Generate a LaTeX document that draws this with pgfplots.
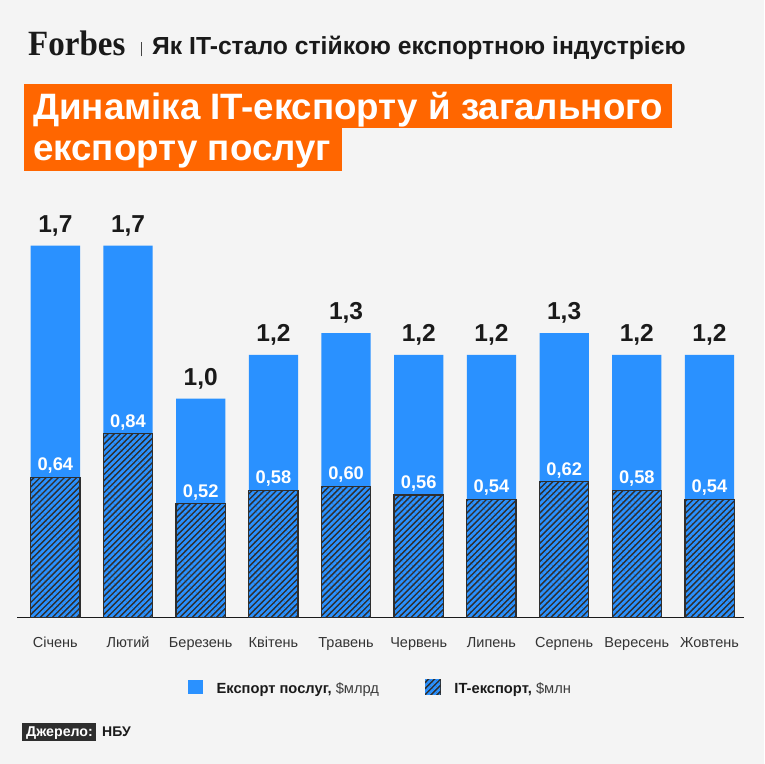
\documentclass[border=0pt]{standalone}
\usepackage{pgfplots}
\pgfplotsset{compat=1.18}
\usepackage{pgfplotstable}
\usepackage{fontspec}
\setmainfont{Liberation Sans}
\newfontfamily\forbesfont[FakeStretch=0.93]{Liberation Serif}
\usetikzlibrary{patterns.meta}
\definecolor{bgc}{HTML}{F4F4F4}
\definecolor{barblue}{HTML}{2A91FF}
\definecolor{orangec}{HTML}{FF6600}
\definecolor{hatchdark}{HTML}{2E2E2E}
\definecolor{txtc}{HTML}{1A1A1A}
\definecolor{monthc}{HTML}{333333}
\definecolor{unitc}{HTML}{3C3C3C}
\definecolor{sepc}{HTML}{444444}
\pgfplotstableread{
x tot totlab it itlab
0 1.7 1,7 0.64 0,64
1 1.7 1,7 0.84 0,84
2 1.0 1,0 0.52 0,52
3 1.2 1,2 0.58 0,58
4 1.3 1,3 0.60 0,60
5 1.2 1,2 0.56 0,56
6 1.2 1,2 0.54 0,54
7 1.3 1,3 0.62 0,62
8 1.2 1,2 0.58 0,58
9 1.2 1,2 0.54 0,54
}\data
\begin{document}
\begin{tikzpicture}
\fill[bgc] (0pt,0pt) rectangle (764pt,764pt);
% header
\node[anchor=base west,inner sep=0pt,text=txtc] at (28pt,708pt) {\forbesfont\bfseries\fontsize{35.5}{40}\selectfont Forbes};
\draw[sepc,line width=1.3pt] (141.7pt,707.5pt) -- (141.7pt,722pt);
\node[anchor=base west,inner sep=0pt,text=txtc] at (152pt,709pt) {\bfseries\fontsize{24.7}{28}\selectfont Як IT-стало стійкою експортною індустрією};
% title boxes
\fill[orangec] (24.3pt,680pt) rectangle (672pt,635.7pt);
\fill[orangec] (24.3pt,635.7pt) rectangle (341.7pt,593pt);
\node[anchor=base west,inner sep=0pt,text=white] at (33pt,644.7pt) {\bfseries\fontsize{36.7}{40}\selectfont Динаміка IT-експорту й загального};
\node[anchor=base west,inner sep=0pt,text=white] at (33pt,603pt) {\bfseries\fontsize{36.7}{40}\selectfont експорту послуг};
% source
\fill[hatchdark] (22.3pt,40.7pt) rectangle (96pt,23pt);
\node[anchor=base west,inner sep=0pt,text=white] at (26pt,27.5pt) {\bfseries\fontsize{14.2}{17}\selectfont Джерело:};
\node[anchor=base west,inner sep=0pt,text=txtc] at (102pt,27.5pt) {\bfseries\fontsize{14}{17}\selectfont НБУ};
\begin{axis}[
  at={(55.35pt,146.5pt)}, anchor=origin,
  scale only axis, width=726.7pt, height=437.6pt,
  xmin=-0.523, xmax=9.475, ymin=0, ymax=2,
  axis x line*=bottom, axis y line=none,
  x axis line style={draw=txtc, line width=1.3pt, -},
  ytick=\empty,
  xtick={0,...,9},
  xticklabels={Січень,Лютий,Березень,Квітень,Травень,Червень,Липень,Серпень,Вересень,Жовтень},
  major tick length=0pt,
  xticklabel style={font=\fontsize{14.5}{17}\selectfont, text=monthc, anchor=base, yshift=-30.5pt},
  clip=false,
  ybar, bar width=49.3pt, bar shift=0pt,
  legend columns=2,
  legend style={at={(0.2345,-0.1588)}, anchor=west, draw=none, fill=none, inner sep=0pt,
    nodes={inner sep=0pt, text=txtc, font=\fontsize{14.7}{17}\selectfont},
    /tikz/every odd column/.append style={column sep=13.6pt},
    /tikz/every even column/.append style={column sep=45.5pt}},
  legend image code/.code={\path[#1,draw=none] (0pt,-5.3pt) rectangle (15pt,9pt);},
]
\addplot[fill=barblue, draw=none,
  nodes near coords, point meta=explicit symbolic,
  nodes near coords style={anchor=base, yshift=13.3pt, inner sep=0pt, text=txtc, font=\bfseries\fontsize{24.5}{28}\selectfont}]
  table[x=x, y=tot, meta=totlab] {\data};
\addlegendentry{\textbf{Експорт послуг,} \textcolor{unitc}{\$млрд}}
\addplot[preaction={fill=hatchdark}, pattern={Lines[angle=45,distance=4.3pt,line width=2.6pt]}, pattern color=barblue,
  draw=hatchdark, line width=1.3pt,
  nodes near coords, point meta=explicit symbolic,
  nodes near coords style={anchor=base, yshift=6.6pt, inner sep=0pt, text=white, font=\bfseries\fontsize{18.3}{21}\selectfont}]
  table[x=x, y=it, meta=itlab] {\data};
\addlegendentry{\textbf{IT-експорт,} \textcolor{unitc}{\$млн}}
\end{axis}
\end{tikzpicture}
\end{document}
